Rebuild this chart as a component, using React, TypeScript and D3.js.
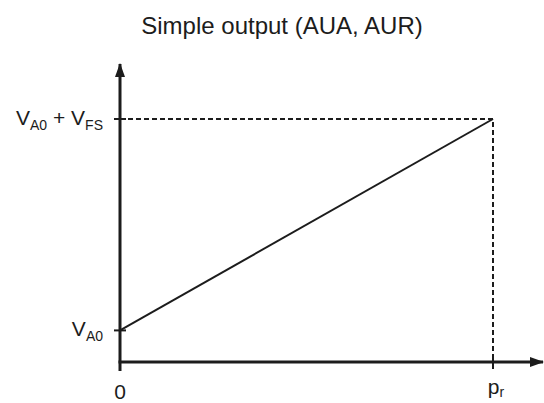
import React, { useEffect, useRef } from "react";
import * as d3 from "d3";

// normalised pressure (x) and output (y) of the transfer line
const pressure = [0, 1];
const output = [0.13, 1];
const xTickLabels = ["0", "pr"];
const yTickLabels = ["VA0", "VA0+VFS"];
const title = "Simple output (AUA, AUR)";

const App = () => {
  const chartRef = useRef<SVGSVGElement>(null);

  useEffect(() => {
    const width = 544;
    const height = 403;
    const ink = "#1c1c1c";
    const font = "'Liberation Sans', Arial, sans-serif";
    const big = "21px";
    const small = "14px";

    const svg = d3
      .select(chartRef.current)
      .attr("width", width)
      .attr("height", height)
      .style("font-family", font);
    svg.selectAll("*").remove();

    const x = d3.scaleLinear().domain([0, 1]).range([120, 493]);
    const y = d3.scaleLinear().domain([0, 1]).range([362, 119]);

    const points = pressure.map((p, i) => ({ x: p, y: output[i] }));
    const top = points[points.length - 1];

    svg
      .append("defs")
      .append("marker")
      .attr("id", "arrow")
      .attr("viewBox", "0 0 14 10")
      .attr("refX", 13)
      .attr("refY", 5)
      .attr("markerWidth", 14)
      .attr("markerHeight", 10)
      .attr("markerUnits", "userSpaceOnUse")
      .attr("orient", "auto")
      .append("path")
      .attr("d", "M0,0 L14,5 L0,10 z")
      .attr("fill", ink);

    svg
      .append("text")
      .attr("x", 282)
      .attr("y", 34)
      .attr("text-anchor", "middle")
      .attr("fill", ink)
      .style("font-size", "24px")
      .text(title);

    // dashed guides
    svg
      .append("path")
      .attr(
        "d",
        `M${x(0)},${y(top.y)} L${x(top.x)},${y(top.y)} L${x(top.x)},${y(0)}`
      )
      .attr("fill", "none")
      .attr("stroke", ink)
      .attr("stroke-width", 2)
      .attr("stroke-dasharray", "5,3");

    // axes
    svg
      .append("line")
      .attr("x1", x(0) - 1.5)
      .attr("y1", y(0))
      .attr("x2", 543)
      .attr("y2", y(0))
      .attr("stroke", ink)
      .attr("stroke-width", 3)
      .attr("marker-end", "url(#arrow)");
    svg
      .append("line")
      .attr("x1", x(0))
      .attr("y1", y(0) + 9)
      .attr("x2", x(0))
      .attr("y2", 64)
      .attr("stroke", ink)
      .attr("stroke-width", 3)
      .attr("marker-end", "url(#arrow)");

    // ticks
    output.forEach((v) => {
      svg
        .append("line")
        .attr("x1", x(0) - 6)
        .attr("x2", x(0) + 6)
        .attr("y1", y(v))
        .attr("y2", y(v))
        .attr("stroke", ink)
        .attr("stroke-width", 2);
    });
    svg
      .append("line")
      .attr("x1", x(top.x))
      .attr("x2", x(top.x))
      .attr("y1", y(0) - 6)
      .attr("y2", y(0) + 7)
      .attr("stroke", ink)
      .attr("stroke-width", 2);

    // transfer line
    const line = d3
      .line<{ x: number; y: number }>()
      .x((d) => x(d.x))
      .y((d) => y(d.y));
    svg
      .append("path")
      .datum(points)
      .attr("d", line)
      .attr("fill", "none")
      .attr("stroke", ink)
      .attr("stroke-width", 2);

    // y labels with subscripts
    const yl0 = svg
      .append("text")
      .attr("x", 103)
      .attr("y", y(output[0]) + 6)
      .attr("text-anchor", "end")
      .attr("fill", ink)
      .style("font-size", big);
    yl0.append("tspan").text(yTickLabels[0].slice(0, 1));
    yl0.append("tspan").attr("dy", 5).style("font-size", small).text(yTickLabels[0].slice(1));

    const yl1 = svg
      .append("text")
      .attr("x", 103)
      .attr("y", y(output[1]) + 6)
      .attr("text-anchor", "end")
      .attr("fill", ink)
      .style("font-size", big);
    yl1.append("tspan").text("V");
    yl1.append("tspan").attr("dy", 5).style("font-size", small).text("A0");
    yl1.append("tspan").attr("dy", -5).text(" + V");
    yl1.append("tspan").attr("dy", 5).style("font-size", small).text("FS");

    // x labels
    svg
      .append("text")
      .attr("x", x(pressure[0]))
      .attr("y", 399)
      .attr("text-anchor", "middle")
      .attr("fill", ink)
      .style("font-size", big)
      .text(xTickLabels[0]);
    const xl = svg
      .append("text")
      .attr("x", x(pressure[1]) + 3)
      .attr("y", 394)
      .attr("text-anchor", "middle")
      .attr("fill", ink)
      .style("font-size", big);
    xl.append("tspan").text(xTickLabels[1].slice(0, 1));
    xl.append("tspan").attr("dy", 3).style("font-size", small).text(xTickLabels[1].slice(1));
  }, []);

  return (
    <svg
      ref={chartRef}
      style={{ position: "absolute", left: 0, top: 0, background: "#fff" }}
    ></svg>
  );
};

export default App;
